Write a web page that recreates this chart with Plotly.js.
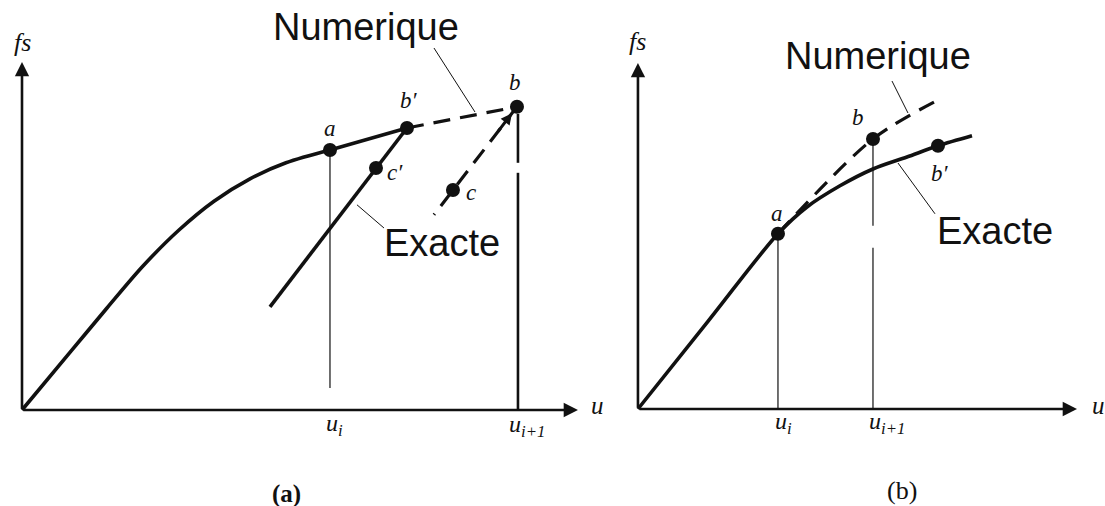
<!DOCTYPE html>
<html>
<head>
<meta charset="utf-8">
<script src="https://cdn.plot.ly/plotly-3.0.1.min.js"></script>
<style>
  html, body { margin: 0; padding: 0; background: #fff; }
  #chart { width: 1105px; height: 506px; }
</style>
</head>
<body>
<div id="chart"></div>
<script>
// ---------- Panel (a): step that overshoots, unloading from b ----------
const exactA_u   = [0, 0.98, 1.7, 2.42, 3.14, 3.84, 4.56, 5.28, 6.16];
const exactA_fs  = [0, 1.47, 2.55, 3.6, 4.5, 5.22, 5.78, 6.18, 6.5];
const tangentA_u  = [6.16, 7.7];
const tangentA_fs = [6.5, 7.05];
const unloadA_u  = [7.7, 4.96];
const unloadA_fs = [7.05, 2.58];
const numA_u     = [7.7, 9.9];
const numA_fs    = [7.05, 7.58];
const numUnloadA_u  = [9.9, 8.24];
const numUnloadA_fs = [7.58, 4.88];
const stateA_names = ['a', 'b\u2032', 'b', 'c\u2032', 'c'];
const stateA_u     = [6.16, 7.7, 9.9, 7.08, 8.62];
const stateA_fs    = [6.5, 7.05, 7.58, 6.05, 5.5];
const stepA_u      = [6.16, 9.92];
const stepA_labels = ['u<sub>i</sub>', 'u<sub>i+1</sub>'];

// ---------- Panel (b): step that stays close to the exact curve ----------
const exactB_u   = [0, 1.4, 2.8, 3.38, 4.04, 4.7, 5.38, 6.0, 6.68];
const exactB_fs  = [0, 2.19, 4.38, 5.05, 5.58, 6.0, 6.3, 6.58, 6.83];
const numB_u     = [2.8, 4.7, 6.04];
const numB_fs    = [4.38, 6.75, 7.75];
const stateB_names = ['a', 'b', 'b\u2032'];
const stateB_u     = [2.8, 4.7, 6.0];
const stateB_fs    = [4.38, 6.75, 6.58];
const stepB_u      = [2.8, 4.7];
const stepB_labels = ['u<sub>i</sub>', 'u<sub>i+1</sub>'];

const INK = '#111';
const SERIF = 'Liberation Serif, Times New Roman, serif';
const SANS = 'Liberation Sans, Arial, sans-serif';

function line(x, y, xa, ya, width, dash, shape) {
  return { x, y, xaxis: xa, yaxis: ya, mode: 'lines', hoverinfo: 'skip',
           line: { color: INK, width, dash: dash || 'solid', shape: shape || 'linear', smoothing: 0.9 } };
}
function dots(x, y, xa, ya) {
  return { x, y, xaxis: xa, yaxis: ya, mode: 'markers', hoverinfo: 'skip',
           marker: { color: INK, size: 14 } };
}

const DASH = '17px,10px';
const traces = [
  // panel (a)
  line(exactA_u, exactA_fs, 'x', 'y', 3.6, 'solid', 'spline'),
  line(tangentA_u, tangentA_fs, 'x', 'y', 3.6),
  line(unloadA_u, unloadA_fs, 'x', 'y', 3.6),
  line(numA_u, numA_fs, 'x', 'y', 3.2, DASH),
  line(numUnloadA_u, numUnloadA_fs, 'x', 'y', 3.2, DASH),
  line([stepA_u[0], stepA_u[0]], [stateA_fs[0], 0.55], 'x', 'y', 1.2),
  line([stepA_u[1], stepA_u[1], null, stepA_u[1], stepA_u[1]], [0, 5.93, null, 6.18, 7.4], 'x', 'y', 2.6),
  line([8.24, 9.06], [9.05, 7.45], 'x', 'y', 1),
  line([6.7, 7.24], [5.13, 4.55], 'x', 'y', 1),
  dots(stateA_u, stateA_fs, 'x', 'y'),
  // panel (b)
  line(exactB_u, exactB_fs, 'x2', 'y2', 3.6, 'solid', 'spline'),
  line(numB_u, numB_fs, 'x2', 'y2', 3.2, DASH, 'spline'),
  line([stepB_u[0], stepB_u[0]], [stateB_fs[0], 0], 'x2', 'y2', 1.2),
  line([stepB_u[1], stepB_u[1], null, stepB_u[1], stepB_u[1]], [stateB_fs[1], 4.58, null, 4.03, 0], 'x2', 'y2', 1.2),
  line([5.08, 5.4], [8.2, 7.4], 'x2', 'y2', 1),
  line([5.2, 5.94], [6.15, 4.88], 'x2', 'y2', 1),
  dots(stateB_u, stateB_fs, 'x2', 'y2')
];

function txt(x, y, xr, yr, text, size, family, extra) {
  return Object.assign({ x, y, xref: xr, yref: yr, text, showarrow: false,
    font: { family, size, color: INK }, xanchor: 'center', yanchor: 'middle' }, extra || {});
}
function axisArrow(x, y, ax, ay, xr, yr) {
  return { x, y, ax, ay, xref: xr, yref: yr, axref: xr, ayref: yr, text: '',
    showarrow: true, arrowhead: 2, arrowsize: 1.1, arrowwidth: 2.6, arrowcolor: INK };
}

const annotations = [
  // axes of (a)
  axisArrow(0, 8.7, 0, 0, 'x', 'y'),
  axisArrow(11.12, 0, 0, 0, 'x', 'y'),
  txt(0, 9.2, 'x', 'y', '<i>fs</i>', 26, SERIF),
  txt(11.52, 0.12, 'x', 'y', '<i>u</i>', 25, SERIF),
  txt(stepA_u[0] + 0.1, -0.38, 'x', 'y', '<i>' + stepA_labels[0] + '</i>', 24, SERIF),
  txt(stepA_u[1] + 0.18, -0.4, 'x', 'y', '<i>' + stepA_labels[1] + '</i>', 24, SERIF),
  // arrowhead of the numerical unloading path reaching b
  { x: 9.8, y: 7.42, ax: 9.5, ay: 6.93, xref: 'x', yref: 'y', axref: 'x', ayref: 'y', text: '',
    showarrow: true, arrowhead: 2, arrowsize: 0.75, arrowwidth: 3, arrowcolor: INK },
  txt(6.16, 7.05, 'x', 'y', '<i>a</i>', 23, SERIF),
  txt(7.74, 7.75, 'x', 'y', '<i>b\u2032</i>', 23, SERIF),
  txt(9.86, 8.18, 'x', 'y', '<i>b</i>', 23, SERIF),
  txt(7.46, 5.95, 'x', 'y', '<i>c\u2032</i>', 23, SERIF),
  txt(8.98, 5.43, 'x', 'y', '<i>c</i>', 23, SERIF),
  txt(6.88, 9.58, 'x', 'y', 'Numerique', 38, SANS),
  txt(8.4, 4.18, 'x', 'y', 'Exacte', 38, SANS),
  txt(5.3, -2.1, 'x', 'y', '<b>(a)</b>', 25, SERIF),
  // axes of (b)
  axisArrow(0, 8.65, 0, 0, 'x2', 'y2'),
  axisArrow(8.78, 0, 0, 0, 'x2', 'y2'),
  txt(0, 9.18, 'x2', 'y2', '<i>fs</i>', 26, SERIF),
  txt(9.2, 0.08, 'x2', 'y2', '<i>u</i>', 25, SERIF),
  txt(stepB_u[0] + 0.12, -0.35, 'x2', 'y2', '<i>' + stepB_labels[0] + '</i>', 24, SERIF),
  txt(stepB_u[1] + 0.28, -0.35, 'x2', 'y2', '<i>' + stepB_labels[1] + '</i>', 24, SERIF),
  txt(2.78, 4.9, 'x2', 'y2', '<i>a</i>', 23, SERIF),
  txt(4.4, 7.28, 'x2', 'y2', '<i>b</i>', 23, SERIF),
  txt(6.04, 5.88, 'x2', 'y2', '<i>b\u2032</i>', 23, SERIF),
  txt(4.8, 8.83, 'x2', 'y2', 'Numerique', 38, SANS),
  txt(7.14, 4.45, 'x2', 'y2', 'Exacte', 38, SANS),
  txt(5.28, -2.03, 'x2', 'y2', '(b)', 26, SERIF)
];

const hidden = { visible: false, fixedrange: true, showgrid: false, zeroline: false };
const layout = {
  width: 1105, height: 506,
  margin: { l: 0, r: 0, t: 0, b: 0 },
  paper_bgcolor: '#fff', plot_bgcolor: '#fff',
  showlegend: false, hovermode: false,
  xaxis:  Object.assign({ domain: [0, 0.552], range: [-0.44, 11.76], anchor: 'y' }, hidden),
  yaxis:  Object.assign({ domain: [0, 1], range: [-2.4, 10.25], anchor: 'x' }, hidden),
  xaxis2: Object.assign({ domain: [0.552, 1], range: [-0.56, 9.34], anchor: 'y2' }, hidden),
  yaxis2: Object.assign({ domain: [0, 1], range: [-2.425, 10.225], anchor: 'x2' }, hidden),
  annotations
};

Plotly.newPlot('chart', traces, layout, { staticPlot: true, displayModeBar: false });
</script>
</body>
</html>
